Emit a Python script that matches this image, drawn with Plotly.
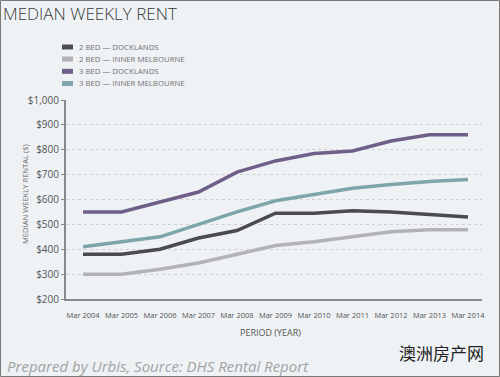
import plotly.graph_objects as go

years = [2004, 2005, 2006, 2007, 2008, 2009, 2010, 2011, 2012, 2013, 2014]
tick_labels = ["Mar " + str(y) for y in years]

series_names = ["2 BED — DOCKLANDS", "2 BED — INNER MELBOURNE",
                "3 BED — DOCKLANDS", "3 BED — INNER MELBOURNE"]
two_bed_docklands = [380, 380, 400, 445, 475, 545, 545, 555, 550, 540, 530]
two_bed_inner = [300, 300, 320, 345, 380, 415, 430, 450, 470, 478, 478]
three_bed_docklands = [550, 550, 590, 630, 710, 755, 785, 795, 835, 860, 860]
three_bed_inner = [410, 430, 450, 500, 550, 595, 620, 645, 660, 672, 680]
series_values = [two_bed_docklands, two_bed_inner, three_bed_docklands, three_bed_inner]
colors = ["#4b4b4d", "#b3b3b5", "#6f5f88", "#7ea6aa"]

y_ticks = [200, 300, 400, 500, 600, 700, 800, 900, 1000]
y_tick_text = ["$200", "$300", "$400", "$500", "$600", "$700", "$800", "$900", "$1,000"]

W, H = 500, 377
ML, MR, MT, MB = 66, 18, 100, 78
PW, PH = W - ML - MR, H - MT - MB

def px(x):
    return (x - ML) / PW

def py(y):
    return 1 - (y - MT) / PH

fig = go.Figure()
for name, vals, col in zip(series_names, series_values, colors):
    fig.add_trace(go.Scatter(x=years, y=vals, name=name, mode="lines",
                             line=dict(color=col, width=3.5), showlegend=False))

font_fam = "Open Sans, Noto Sans, sans-serif"

shapes = []
annotations = []
legend_rows = [47, 59, 71.3, 83.5]
for name, col, ry in zip(series_names, colors, legend_rows):
    shapes.append(dict(type="line", xref="paper", yref="paper",
                       x0=px(62), x1=px(73), y0=py(ry), y1=py(ry),
                       line=dict(color=col, width=5)))
    annotations.append(dict(text=name, xref="paper", yref="paper",
                            x=px(77), y=py(ry), xanchor="left", yanchor="middle",
                            showarrow=False,
                            font=dict(size=7.8, color="#707070", family=font_fam)))

# border
shapes.append(dict(type="rect", xref="paper", yref="paper",
                   x0=px(0.5), x1=px(499.5), y0=py(376.5), y1=py(0.5),
                   line=dict(color="#7a7a7a", width=1)))

annotations.append(dict(text="MEDIAN WEEKLY RENT", xref="paper", yref="paper",
                        x=px(1), y=py(13), xanchor="left", yanchor="middle",
                        showarrow=False,
                        font=dict(size=17, color="#3a3a3a", family=font_fam, weight=300)))
annotations.append(dict(text="PERIOD (YEAR)", xref="paper", yref="paper",
                        x=px(270), y=py(332), xanchor="center", yanchor="middle",
                        showarrow=False,
                        font=dict(size=9, color="#555555", family=font_fam)))
annotations.append(dict(text="MEDIAN WEEKLY RENTAL ($)", xref="paper", yref="paper",
                        x=px(25), y=py(194), xanchor="center", yanchor="middle",
                        textangle=-90, showarrow=False,
                        font=dict(size=7.6, color="#707070", family=font_fam)))
annotations.append(dict(text="<i>Prepared by Urbis, Source: DHS Rental Report</i>",
                        xref="paper", yref="paper",
                        x=px(5), y=py(366), xanchor="left", yanchor="middle",
                        showarrow=False,
                        font=dict(size=15, color="#a3a3a3", family=font_fam)))
annotations.append(dict(text="澳洲房产网", xref="paper", yref="paper",
                        x=px(441), y=py(352), xanchor="center", yanchor="middle",
                        showarrow=False,
                        font=dict(size=17, color="#222222", family="Noto Sans CJK SC")))

fig.update_layout(
    width=W, height=H,
    margin=dict(l=ML, r=MR, t=MT, b=MB),
    paper_bgcolor="#eef2f4", plot_bgcolor="#eef2f4",
    shapes=shapes, annotations=annotations,
    xaxis=dict(range=[2003.558, 2014.364], tickvals=years, ticktext=tick_labels,
               showgrid=False, zeroline=False, showline=True, linecolor="#8a8a8a",
               linewidth=2, ticks="", ticklabelstandoff=8,
               tickfont=dict(size=7.5, color="#555555", family=font_fam)),
    yaxis=dict(range=[200, 1000], tickvals=y_ticks, ticktext=y_tick_text,
               showgrid=True, gridcolor="#d0d0d0", griddash="dot", gridwidth=1,
               zeroline=False, showline=True, linecolor="#8a8a8a", linewidth=2,
               ticks="outside", ticklen=3, tickcolor="#8a8a8a",
               tickfont=dict(size=10, color="#555555", family=font_fam)),
)

fig.write_html("out.html", config={"displayModeBar": False},
               post_script="document.body.style.margin='0';document.body.style.overflow='hidden';")
